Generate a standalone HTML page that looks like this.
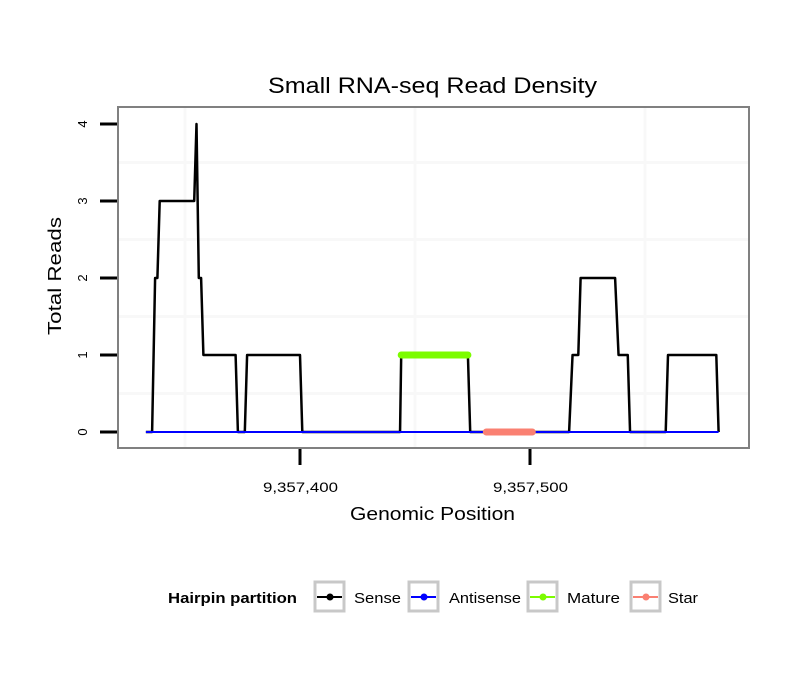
<!DOCTYPE html>
<html><head><meta charset="utf-8"><style>
body{margin:0;background:#fff;font-family:"Liberation Sans",sans-serif}
</style></head><body>
<svg width="810" height="690" viewBox="0 0 810 690" font-family="Liberation Sans, sans-serif">
<rect width="810" height="690" fill="#fff"/>
<g id="grid"></g>
<g id="marks"></g>
<rect x="118" y="107" width="631" height="341" fill="none" stroke="#808080" stroke-width="2"/>
<g id="axes"></g>
<text x="268" y="93" font-size="22" textLength="329" lengthAdjust="spacingAndGlyphs">Small RNA-seq Read Density</text>
<text x="350" y="520" font-size="18" textLength="165" lengthAdjust="spacingAndGlyphs">Genomic Position</text>
<text transform="translate(61,335) rotate(-90)" font-size="18" textLength="118" lengthAdjust="spacingAndGlyphs">Total Reads</text>
<g font-size="15">
<text x="168" y="603" font-weight="bold" textLength="129" lengthAdjust="spacingAndGlyphs">Hairpin partition</text>
<g><rect x="315" y="582" width="29" height="29" fill="#fff" stroke="#c8c8c8" stroke-width="3"/><line x1="317" y1="597" x2="342" y2="597" stroke="#000" stroke-width="2"/><circle cx="330" cy="597" r="3.5" fill="#000"/><text x="354" y="603" textLength="47" lengthAdjust="spacingAndGlyphs">Sense</text></g>
<g><rect x="409" y="582" width="29" height="29" fill="#fff" stroke="#c8c8c8" stroke-width="3"/><line x1="411" y1="597" x2="436" y2="597" stroke="#0000ff" stroke-width="2"/><circle cx="424" cy="597" r="3.5" fill="#0000ff"/><text x="449" y="603" textLength="72" lengthAdjust="spacingAndGlyphs">Antisense</text></g>
<g><rect x="528" y="582" width="29" height="29" fill="#fff" stroke="#c8c8c8" stroke-width="3"/><line x1="530" y1="597" x2="555" y2="597" stroke="#7cfc00" stroke-width="2"/><circle cx="543" cy="597" r="3.5" fill="#7cfc00"/><text x="567" y="603" textLength="53" lengthAdjust="spacingAndGlyphs">Mature</text></g>
<g><rect x="631" y="582" width="29" height="29" fill="#fff" stroke="#c8c8c8" stroke-width="3"/><line x1="633" y1="597" x2="658" y2="597" stroke="#fa8072" stroke-width="2"/><circle cx="646" cy="597" r="3.5" fill="#fa8072"/><text x="668" y="603" textLength="30" lengthAdjust="spacingAndGlyphs">Star</text></g>
</g>
</svg>
<script>
const BASE = 9357400;
const senseX = [333,335.7,337,338,339,354,355,356,357,358,372,373,376,377,400,401,443.5,444,473,474,517,518.5,521,522,537,538.5,542.5,543.5,559,560,581,582];
const senseY = [0,0,2,2,3,3,4,2,2,1,1,0,0,1,1,0,0,1,1,0,0,1,1,2,2,1,1,0,0,1,1,0];
const antisenseX = [333,582];
const antisenseY = [0,0];
const matureX = [444,473];
const matureY = [1,1];
const starX = [481,501];
const starY = [0,0];
const yTicks = [0,1,2,3,4];
const xTicks = [400,500];
const xTickLabels = ["9,357,400","9,357,500"];
const xGrid = [350,450,550];
const yGrid = [0.5,1.5,2.5,3.5];

const NS = "http://www.w3.org/2000/svg";
const xs = p => 300 + (p - 400) * 2.3;
const ys = v => 432 - v * 77;
function mk(tag, attrs, parent){const e=document.createElementNS(NS,tag);for(const k in attrs)e.setAttribute(k,attrs[k]);parent.appendChild(e);return e;}
const grid=document.getElementById('grid'), marks=document.getElementById('marks'), axes=document.getElementById('axes');
xGrid.forEach(g=>{const l=mk('line',{x1:xs(g),x2:xs(g),y1:108,y2:447,stroke:'#f8f8f8','stroke-width':3},grid);

});
yGrid.forEach(g=>{const l=mk('line',{x1:119,x2:748,y1:ys(g),y2:ys(g),stroke:'#f8f8f8','stroke-width':3},grid);

});
function path(X,Y,color,w,name){const d=X.map((x,i)=>(i?'L':'M')+xs(x)+','+ys(Y[i])).join(' ');
const p=mk('path',{d:d,fill:'none',stroke:color,'stroke-width':w,'stroke-linecap':w>3?'round':'butt','stroke-linejoin':'round'},marks);

}
path(senseX,senseY,'#000',2.5,'sense-line');
path(antisenseX,antisenseY,'#0000ff',2,'antisense-line');
path(matureX,matureY,'#7cfc00',7,'mature-line');
path(starX,starY,'#fa8072',7,'star-line');
yTicks.forEach(t=>{const l=mk('line',{x1:100,x2:117,y1:ys(t),y2:ys(t),stroke:'#000','stroke-width':3},axes);


const tx=mk('text',{transform:`translate(87,${ys(t)}) rotate(-90)`,'font-size':13,'text-anchor':'middle'},axes);tx.textContent=t;

});
xTicks.forEach((t,i)=>{const l=mk('line',{x1:xs(t),x2:xs(t),y1:449,y2:465,stroke:'#000','stroke-width':3},axes);


const tx=mk('text',{x:xs(t)-37,y:492,'font-size':14,textLength:75,lengthAdjust:'spacingAndGlyphs'},axes);tx.textContent=xTickLabels[i];

});
</script>
</body></html>
